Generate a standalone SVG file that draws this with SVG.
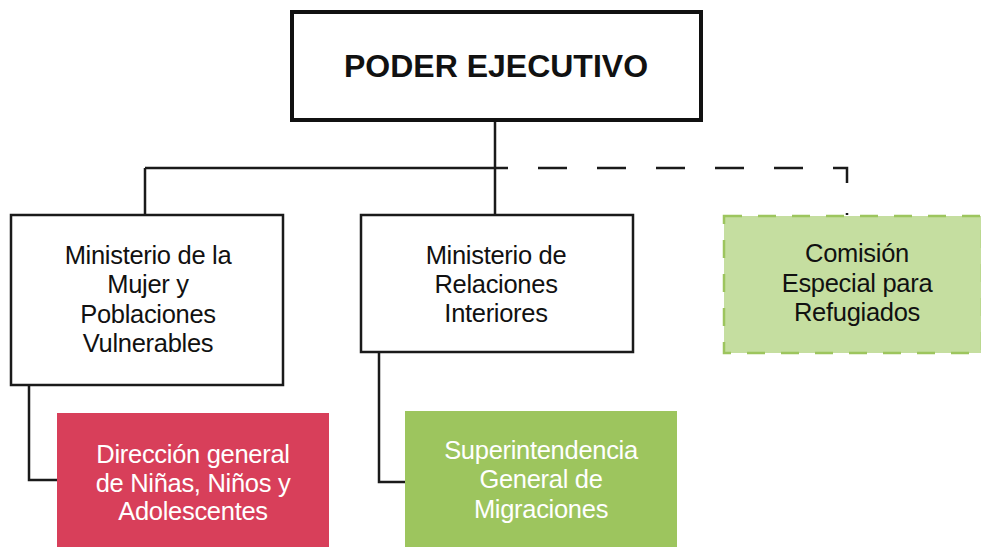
<svg xmlns="http://www.w3.org/2000/svg" width="981" height="547" viewBox="0 0 981 547">
<style>
.t{font-family:"Liberation Sans",Arial,sans-serif;font-size:25.5px;text-anchor:middle;letter-spacing:-0.3px}
.w{fill:#ffffff}
.k{fill:#111111}
.ln{fill:none;stroke:#1a1a1a;stroke-width:2.5}
.box{fill:#ffffff;stroke:#1a1a1a;stroke-width:2.5}
</style>
<rect width="981" height="547" fill="#ffffff"/>
<g id="connectors">
<path class="ln" d="M495 121V215M145 168H495M145 168V215"/>
<path class="ln" d="M29 385V480H57"/>
<path class="ln" d="M379 352V482H405"/>
<path class="ln" stroke-dasharray="29 30" stroke-dashoffset="16" d="M495 168H847V215"/>
</g>
<g id="poder">
<rect x="292" y="12" width="409" height="108" fill="#ffffff" stroke="#111111" stroke-width="4"/>
<text x="496" y="77" class="k" style="font-family:'Liberation Sans',Arial,sans-serif;font-size:32px;font-weight:bold;text-anchor:middle">PODER EJECUTIVO</text>
</g>
<g id="mujer">
<rect class="box" x="11" y="215" width="272" height="170"/>
<text class="t k"><tspan x="148" y="264">Ministerio de la</tspan><tspan x="148" y="293">Mujer y</tspan><tspan x="148" y="323">Poblaciones</tspan><tspan x="148" y="352">Vulnerables</tspan></text>
</g>
<g id="relaciones">
<rect class="box" x="361" y="215" width="272" height="137"/>
<text class="t k"><tspan x="496" y="264">Ministerio de</tspan><tspan x="496" y="293">Relaciones</tspan><tspan x="496" y="322">Interiores</tspan></text>
</g>
<g id="comision">
<rect x="724" y="216" width="258" height="137" fill="#c5dea0" stroke="#9dc55e" stroke-width="2.5" stroke-dasharray="18 16"/>
<text class="t k"><tspan x="857" y="262">Comisión</tspan><tspan x="857" y="292">Especial para</tspan><tspan x="857" y="321">Refugiados</tspan></text>
</g>
<g id="direccion">
<rect x="57" y="413" width="272" height="134" fill="#d83f5a"/>
<text class="t w"><tspan x="193" y="463">Dirección general</tspan><tspan x="193" y="492">de Niñas, Niños y</tspan><tspan x="193" y="520">Adolescentes</tspan></text>
</g>
<g id="superintendencia">
<rect x="405" y="411" width="272" height="136" fill="#9dc55e"/>
<text class="t w"><tspan x="541" y="459">Superintendencia</tspan><tspan x="541" y="488">General de</tspan><tspan x="541" y="518">Migraciones</tspan></text>
</g>
</svg>
